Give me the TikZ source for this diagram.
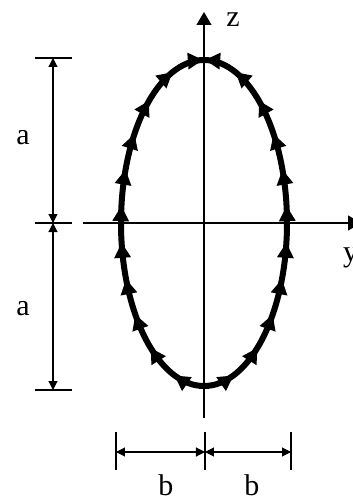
\documentclass[tikz,border=0pt]{standalone}
\usepackage{fontspec}
\setmainfont{Liberation Serif}
\usetikzlibrary{arrows.meta,decorations.markings}
\begin{document}
\begin{tikzpicture}[x=1pt,y=1pt,
  lbl/.style={font=\fontsize{30}{32}\selectfont, inner sep=0pt, anchor=base},
  axisline/.style={line width=1.4pt, -{Triangle[length=13pt,width=15pt]}},
  dimline/.style={line width=1.1pt, {Triangle[length=9pt,width=9pt]}-{Triangle[length=9pt,width=9pt]}},
  tickline/.style={line width=1.1pt},
  currentline/.style={line width=6pt, postaction={decorate},
    decoration={markings,
      mark=between positions 0.075 and 0.95 step 0.0925 with {\fill (2,0) -- (-13,8.5) -- (-13,-8.5) -- cycle;},
      mark=at position 0.992 with {\fill (2,0) -- (-13,8.5) -- (-13,-8.5) -- cycle;}}}]
\useasboundingbox (-204,-278) rectangle (149,223);
% axes
\coordinate (zb) at (0,-195);
\coordinate (zt) at (0,211);
\coordinate (yl) at (-121,0);
\coordinate (yr) at (157,0);
\draw[axisline] (zb) -- (zt);
\draw[axisline] (yl) -- (yr);
\node[lbl] (zlab) at (29,196) {z};
\node[lbl, anchor=base west] (ylab) at (139,-38) {y};
% ellipse current path
\coordinate (bot) at (0,-163);
\draw[currentline] (bot) arc[start angle=-90, end angle=90, x radius=83, y radius=163];
\draw[currentline] (bot) arc[start angle=-90, end angle=-270, x radius=83, y radius=163];
% left dimension
\coordinate (at) at (-151,165);
\coordinate (am) at (-151,0);
\coordinate (ab) at (-151,-167);
\draw[tickline] ([xshift=-18]at) -- ([xshift=19]at);
\draw[tickline] ([xshift=-18]am) -- ([xshift=19]am);
\draw[tickline] ([xshift=-18]ab) -- ([xshift=19]ab);
\draw[dimline] (at) -- (am);
\draw[dimline] (am) -- (ab);
\node[lbl] (a1) at (-181,79) {a};
\node[lbl] (a2) at (-181,-92) {a};
% bottom dimension
\coordinate (bl) at (-88,-229);
\coordinate (bm) at (1,-229);
\coordinate (br) at (87,-229);
\draw[tickline] ([yshift=20]bl) -- ([yshift=-18]bl);
\draw[tickline] ([yshift=20]bm) -- ([yshift=-18]bm);
\draw[tickline] ([yshift=20]br) -- ([yshift=-18]br);
\draw[dimline] (bl) -- (bm);
\draw[dimline] (bm) -- (br);
\node[lbl] (b1) at (-38,-272) {b};
\node[lbl] (b2) at (48,-272) {b};
\end{tikzpicture}
\end{document}
